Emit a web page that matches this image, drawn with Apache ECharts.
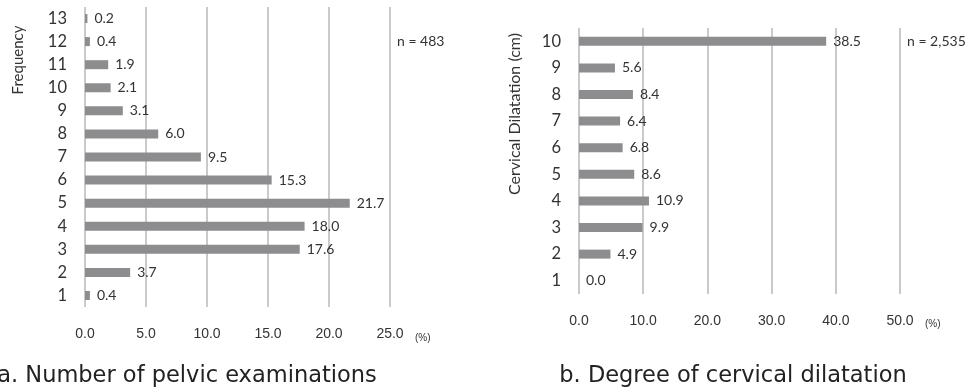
<!DOCTYPE html>
<html>
<head>
<meta charset="utf-8">
<script src="https://cdn.jsdelivr.net/npm/echarts@6/dist/echarts.min.js"></script>
<style>
  html, body { margin: 0; padding: 0; background: #fff; }
  #chart { width: 973px; height: 392px; }
</style>
</head>
<body>
<div id="chart"></div>
<script>
// Panel a: number of pelvic examinations (share of women, %)
const examCategories = ['1', '2', '3', '4', '5', '6', '7', '8', '9', '10', '11', '12', '13'];
const examValues = [0.4, 3.7, 17.6, 18.0, 21.7, 15.3, 9.5, 6.0, 3.1, 2.1, 1.9, 0.4, 0.2];
const examTicks = { min: 0, max: 25, interval: 5 };

// Panel b: cervical dilatation at delivery (%)
const dilatationCategories = ['1', '2', '3', '4', '5', '6', '7', '8', '9', '10'];
const dilatationValues = [0.0, 4.9, 9.9, 10.9, 8.6, 6.8, 6.4, 8.4, 5.6, 38.5];
const dilatationTicks = { min: 0, max: 50, interval: 10 };

const BAR = '#8d8d8f';
const GRID_LINE = '#b9b9b9';
const TEXT = '#333';
const LABEL_FONT = 'Lato, "Open Sans", sans-serif';
const TICK_FONT = '"Liberation Sans", Arial, sans-serif';
const CAPTION_FONT = '"DejaVu Sans", sans-serif';

const chart = echarts.init(document.getElementById('chart'), null, { renderer: 'canvas' });

function valueAxis(gridIndex, ticks) {
  return {
    type: 'value', gridIndex: gridIndex,
    min: ticks.min, max: ticks.max, interval: ticks.interval,
    axisLine: { show: false }, axisTick: { show: false },
    axisLabel: {
      margin: 20, color: TEXT, fontSize: 14, fontFamily: TICK_FONT,
      formatter: v => v.toFixed(1)
    },
    splitLine: { show: true, lineStyle: { color: GRID_LINE, width: 1.5 } }
  };
}

function categoryAxis(gridIndex, cats) {
  return {
    type: 'category', gridIndex: gridIndex, data: cats,
    axisLine: { show: false }, axisTick: { show: false },
    axisLabel: { margin: 18, color: TEXT, fontSize: 16.5, fontFamily: LABEL_FONT },
    splitLine: { show: false }
  };
}

function barSeries(idx, values) {
  return {
    type: 'bar', xAxisIndex: idx, yAxisIndex: idx,
    data: values, barWidth: 9,
    itemStyle: { color: BAR },
    label: {
      show: true, position: 'right', distance: 7,
      color: TEXT, fontSize: 14, fontFamily: LABEL_FONT,
      formatter: p => p.value.toFixed(1)
    },
    animation: false
  };
}

chart.setOption({
  backgroundColor: '#fff',
  animation: false,
  grid: [
    { left: 85, top: 7, width: 305, height: 300, containLabel: false },
    { left: 579, top: 28, width: 321, height: 266, containLabel: false }
  ],
  xAxis: [valueAxis(0, examTicks), valueAxis(1, dilatationTicks)],
  yAxis: [categoryAxis(0, examCategories), categoryAxis(1, dilatationCategories)],
  series: [barSeries(0, examValues), barSeries(1, dilatationValues)],
  graphic: [
    { type: 'text', x: 18, y: 60, rotation: Math.PI / 2,
      style: { text: 'Frequency', fill: TEXT, font: '15px ' + LABEL_FONT, align: 'center', verticalAlign: 'middle' } },
    { type: 'text', x: 515, y: 114, rotation: Math.PI / 2,
      style: { text: 'Cervical Dilatation (cm)', fill: TEXT, font: '16px ' + LABEL_FONT, align: 'center', verticalAlign: 'middle' } },
    { type: 'text', x: 397, y: 41,
      style: { text: 'n = 483', fill: TEXT, font: '14px ' + LABEL_FONT, align: 'left', verticalAlign: 'middle' } },
    { type: 'text', x: 907, y: 41,
      style: { text: 'n = 2,535', fill: TEXT, font: '14px ' + LABEL_FONT, align: 'left', verticalAlign: 'middle' } },
    { type: 'text', x: 415, y: 338,
      style: { text: '(%)', fill: TEXT, font: '10px ' + TICK_FONT, align: 'left', verticalAlign: 'middle' } },
    { type: 'text', x: 925, y: 324,
      style: { text: '(%)', fill: TEXT, font: '10px ' + TICK_FONT, align: 'left', verticalAlign: 'middle' } },
    { type: 'text', x: 187, y: 376,
      style: { text: 'a. Number of pelvic examinations', fill: '#222', font: '22.5px ' + CAPTION_FONT, align: 'center', verticalAlign: 'middle' } },
    { type: 'text', x: 733, y: 376,
      style: { text: 'b. Degree of cervical dilatation', fill: '#222', font: '22.5px ' + CAPTION_FONT, align: 'center', verticalAlign: 'middle' } }
  ]
});
</script>
</body>
</html>
